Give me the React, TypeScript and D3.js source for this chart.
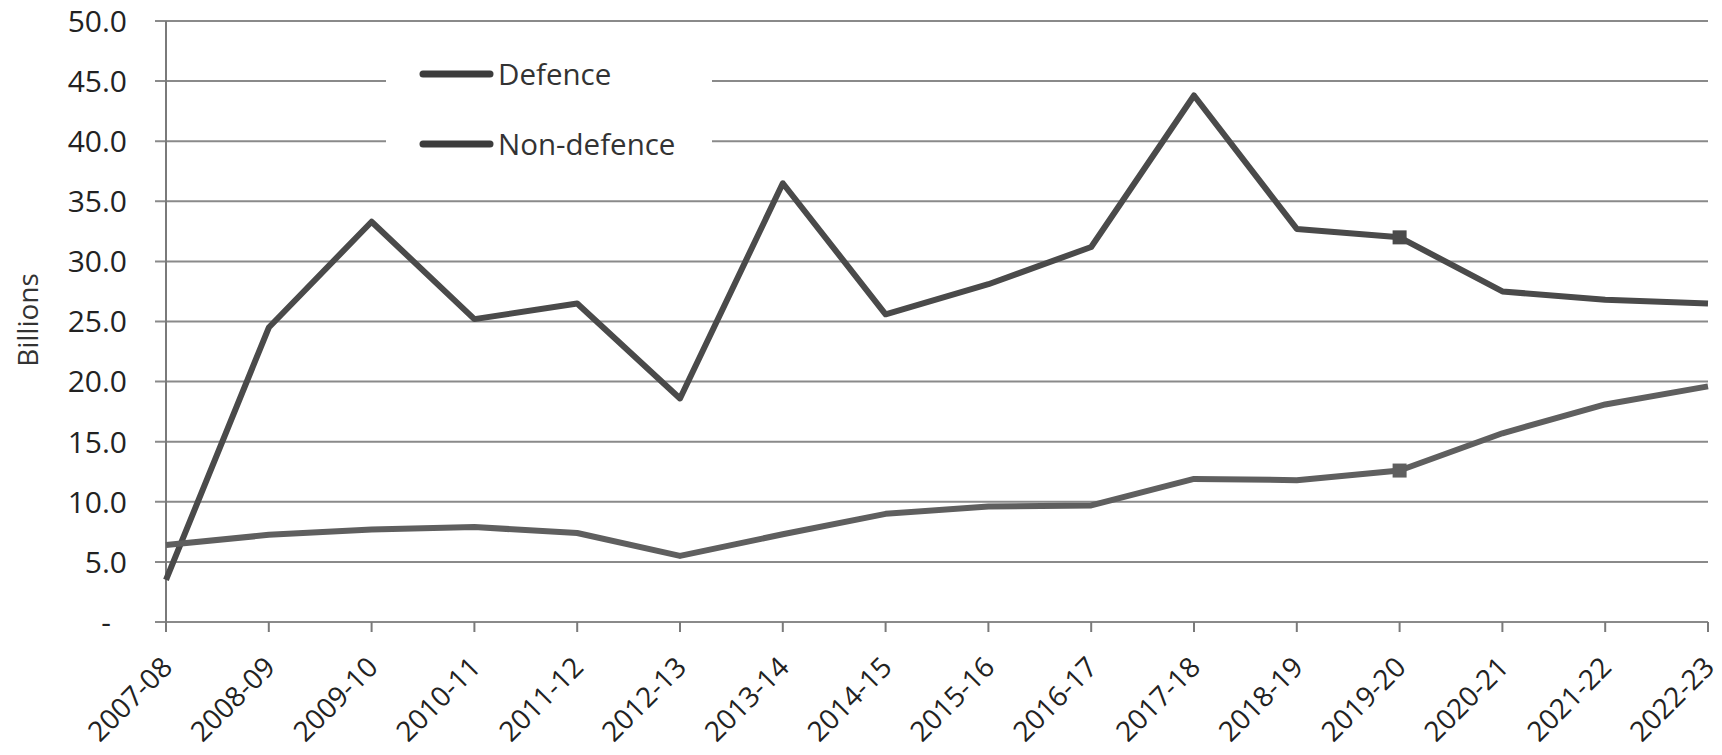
import React from 'react';
import * as d3 from 'd3';

const years = ['2007-08', '2008-09', '2009-10', '2010-11', '2011-12', '2012-13', '2013-14', '2014-15',
  '2015-16', '2016-17', '2017-18', '2018-19', '2019-20', '2020-21', '2021-22', '2022-23'];
const defence = [3.5, 24.5, 33.3, 25.2, 26.5, 18.6, 36.5, 25.6, 28.1, 31.2, 43.8, 32.7, 32.0, 27.5, 26.8, 26.5];
const nonDefence = [6.4, 7.25, 7.7, 7.9, 7.4, 5.5, 7.3, 9.0, 9.6, 9.7, 11.9, 11.8, 12.6, 15.7, 18.1, 19.6];
const yTicks = [0, 5, 10, 15, 20, 25, 30, 35, 40, 45, 50];
const markedYear = '2019-20';

const W = 1722;
const H = 755;
const font = '"Open Sans", sans-serif';

export default function App() {
  const x = d3.scalePoint<string>().domain(years).range([166, 1708]);
  const y = d3.scaleLinear().domain([0, 50]).range([622, 21]);

  const line = d3.line<number>()
    .x((_, i) => x(years[i])!)
    .y(d => y(d));

  const series = [
    { name: 'Defence', values: defence, color: '#4a4a4a' },
    { name: 'Non-defence', values: nonDefence, color: '#5f5f5f' },
  ];
  const mi = years.indexOf(markedYear);

  return (
    <svg width={W} height={H} style={{ position: 'absolute', left: 0, top: 0, background: '#fff' }}>
      {/* gridlines */}
      {yTicks.map(t => (
        <line key={t} x1={155} x2={1708} y1={y(t)} y2={y(t)} stroke="#8a8a8a" strokeWidth={2} />
      ))}
      {/* y axis */}
      <line x1={166} x2={166} y1={y(50)} y2={y(0)} stroke="#7a7a7a" strokeWidth={2} />
      {yTicks.map(t => (
        <text key={t} x={t === 0 ? 111 : 127} y={y(t)} dy="0.36em" textAnchor="end"
          fontFamily={font} fontSize={30} fill="#222">
          {t === 0 ? '-' : t.toFixed(1)}
        </text>
      ))}
      <text transform={`translate(38,${320}) rotate(-90)`} textAnchor="middle"
        fontFamily={font} fontSize={28} fill="#333">Billions</text>

      {/* x ticks and labels */}
      {years.map(yr => (
        <g key={yr}>
          <line x1={x(yr)} x2={x(yr)} y1={622} y2={632} stroke="#7a7a7a" strokeWidth={2} />
          <text transform={`translate(${x(yr)! + 8},${669}) rotate(-45)`} textAnchor="end"
            fontFamily={font} fontSize={28} fill="#222">{yr}</text>
        </g>
      ))}

      {/* series */}
      {series.map(s => (
        <g key={s.name}>
          <path d={line(s.values)!} fill="none" stroke={s.color} strokeWidth={6} strokeLinejoin="round" />
          <rect x={x(markedYear)! - 7} y={y(s.values[mi]) - 7} width={14} height={14} fill={s.color} />
        </g>
      ))}

      {/* legend */}
      <rect x={386} y={45} width={326} height={124} fill="#fff" />
      {series.map((s, i) => (
        <g key={s.name} transform={`translate(0,${74 + i * 70})`}>
          <line x1={423} x2={490} y1={0} y2={0} stroke="#3c3c3c" strokeWidth={7} strokeLinecap="round" />
          <text x={498} y={0} dy="0.36em" fontFamily={font} fontSize={29.5} fill="#333">{s.name}</text>
        </g>
      ))}
    </svg>
  );
}
